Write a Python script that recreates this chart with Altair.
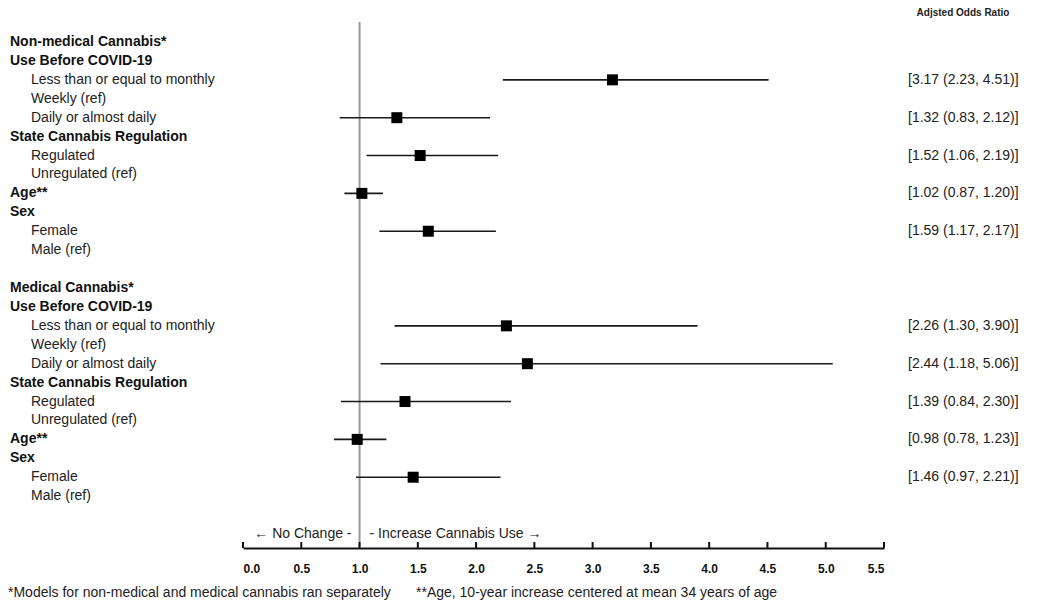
import altair as alt
import pandas as pd

# ---- data ----
row_labels = [
    "Non-medical Cannabis*", "Use Before COVID-19", "Less than or equal to monthly",
    "Weekly (ref)", "Daily or almost daily", "State Cannabis Regulation", "Regulated",
    "Unregulated (ref)", "Age**", "Sex", "Female", "Male (ref)", "",
    "Medical Cannabis*", "Use Before COVID-19", "Less than or equal to monthly",
    "Weekly (ref)", "Daily or almost daily", "State Cannabis Regulation", "Regulated",
    "Unregulated (ref)", "Age**", "Sex", "Female", "Male (ref)",
]
row_is_header = [1, 1, 0, 0, 0, 1, 0, 0, 1, 1, 0, 0, 0,
                 1, 1, 0, 0, 0, 1, 0, 0, 1, 1, 0, 0]

est_rows = [2, 4, 6, 8, 10, 15, 17, 19, 21, 23]
odds_ratio = [3.17, 1.32, 1.52, 1.02, 1.59, 2.26, 2.44, 1.39, 0.98, 1.46]
ci_low = [2.23, 0.83, 1.06, 0.87, 1.17, 1.30, 1.18, 0.84, 0.78, 0.97]
ci_high = [4.51, 2.12, 2.19, 1.20, 2.17, 3.90, 5.06, 2.30, 1.23, 2.21]

tick_values = [0.0, 0.5, 1.0, 1.5, 2.0, 2.5, 3.0, 3.5, 4.0, 4.5, 5.0, 5.5]
ref_value = [1.0]

# ---- layout ----
W, H = 641, 526
FONT = "Liberation Sans"
FS = 14

labels_df = pd.DataFrame({"row": list(range(len(row_labels))),
                          "label": row_labels, "hdr": row_is_header})
hdr_df = labels_df[labels_df.hdr == 1]
item_df = labels_df[(labels_df.hdr == 0) & (labels_df.label != "")]

est_df = pd.DataFrame({"row": est_rows, "or": odds_ratio, "lo": ci_low, "hi": ci_high})
est_df["txt"] = [f"[{o:.2f} ({l:.2f}, {h:.2f})]" for o, l, h in zip(odds_ratio, ci_low, ci_high)]

xscale = alt.Scale(domain=[0, 5.5], nice=False, zero=False)
yscale = alt.Scale(domain=[-1.057, 26.74], nice=False, zero=False, reverse=True)

xaxis = alt.Axis(values=tick_values, format=".1f", labelFont=FONT, labelFontSize=12,
                 labelFontWeight="bold", labelColor="#111", tickSize=0, labelPadding=15,
                 domainColor="#111", domainWidth=2, grid=False, title=None)

base_est = alt.Chart(est_df)

ref_line = alt.Chart(pd.DataFrame({"v": ref_value})).mark_rule(
    color="#9a9a9a", strokeWidth=2).encode(
    x=alt.X("v:Q", scale=xscale, axis=xaxis), y=alt.value(0), y2=alt.value(H))

ticks = alt.Chart(pd.DataFrame({"v": tick_values})).mark_rule(
    color="#111", strokeWidth=2).encode(
    x=alt.X("v:Q", scale=xscale), y=alt.value(H - 6), y2=alt.value(H))

err = base_est.mark_rule(color="#1a1a1a", strokeWidth=1.6).encode(
    x=alt.X("lo:Q", scale=xscale), x2="hi:Q",
    y=alt.Y("row:Q", scale=yscale, axis=None))

pts = base_est.mark_square(size=121, color="black", opacity=1, filled=True).encode(
    x=alt.X("or:Q", scale=xscale), y=alt.Y("row:Q", scale=yscale))

or_text = base_est.mark_text(align="left", baseline="middle", font=FONT, fontSize=FS,
                             color="#222").encode(
    x=alt.value(665), y=alt.Y("row:Q", scale=yscale), text="txt:N")

hdr_text = alt.Chart(hdr_df).mark_text(align="left", baseline="middle", font=FONT,
                                       fontSize=FS, fontWeight="bold", color="#111").encode(
    x=alt.value(-233), y=alt.Y("row:Q", scale=yscale), text="label:N")

item_text = alt.Chart(item_df).mark_text(align="left", baseline="middle", font=FONT,
                                         fontSize=FS, color="#222").encode(
    x=alt.value(-212), y=alt.Y("row:Q", scale=yscale), text="label:N")

dir_df = pd.DataFrame({"v": [1.0], "row": [26.0]})
left_dir = alt.Chart(dir_df).mark_text(align="right", baseline="middle", font=FONT,
                                       fontSize=FS, color="#222", dx=-8,
                                       text="← No Change -").encode(
    x=alt.X("v:Q", scale=xscale), y=alt.Y("row:Q", scale=yscale))
right_dir = alt.Chart(dir_df).mark_text(align="left", baseline="middle", font=FONT,
                                        fontSize=FS, color="#222", dx=10,
                                        text="- Increase Cannabis Use →").encode(
    x=alt.X("v:Q", scale=xscale), y=alt.Y("row:Q", scale=yscale))

header = alt.Chart(dir_df).mark_text(align="center", baseline="middle", font=FONT,
                                     fontSize=10, fontWeight="bold", color="#222",
                                     text="Adjsted Odds Ratio").encode(
    x=alt.value(720), y=alt.value(-9))

foot1 = alt.Chart(dir_df).mark_text(align="left", baseline="middle", font=FONT,
                                    fontSize=FS, color="#222",
                                    text="*Models for non-medical and medical cannabis ran separately").encode(
    x=alt.value(-235), y=alt.value(571))
foot2 = alt.Chart(dir_df).mark_text(align="left", baseline="middle", font=FONT,
                                    fontSize=FS, color="#222",
                                    text="**Age, 10-year increase centered at mean 34 years of age").encode(
    x=alt.value(173), y=alt.value(571))

chart = alt.layer(ref_line, ticks, err, pts, or_text, hdr_text, item_text,
                  left_dir, right_dir, header, foot1, foot2).properties(
    width=W, height=H,
    background="white",
    autosize=alt.AutoSizeParams(type="none"),
    padding={"left": 235, "top": 14, "right": 158, "bottom": 53},
).configure_view(stroke=None)

chart.save("out.html", embed_options={"renderer": "svg", "actions": False})
